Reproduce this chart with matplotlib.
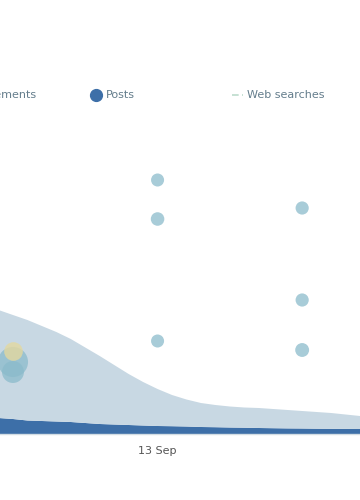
import numpy as np
import matplotlib.pyplot as plt
from matplotlib.lines import Line2D

# Datos (x en dias de septiembre)
dias = [11.9, 12.0, 12.1, 12.2, 12.3, 12.4, 12.5, 12.6, 12.7, 12.8, 12.9, 13.0, 13.1,
        13.2, 13.3, 13.4, 13.5, 13.6, 13.7, 13.8, 13.9, 14.0, 14.1, 14.2, 14.3, 14.4]
posts = [8, 7.5, 6.75, 6.5, 6.25, 6, 5.5, 5, 4.75, 4.5, 4.25, 4, 3.9,
         3.75, 3.5, 3.4, 3.25, 3.15, 3, 2.9, 2.8, 2.75, 2.65, 2.6, 2.55, 2.5]
busquedas = [54, 52, 50.25, 47.5, 44.75, 41.5, 37.75, 34, 29.75, 25.5, 21.75, 18.5, 15.6,
             13.5, 12, 11.1, 10.5, 10.1, 10, 9.6, 9.2, 8.75, 8.35, 7.9, 7.2, 6.5]

# Burbujas
burbuja_x = [13, 13, 13, 14, 14, 14, 12, 12]
burbuja_y = [127, 107.5, 46.5, 113, 67, 42, 36, 31]
burbuja_s = [88, 95, 88, 90, 90, 100, 470, 250]
amarilla_x = [12]
amarilla_y = [41.5]
amarilla_s = [180]

ticks_x = [13]
ticks_lbl = ['13 Sep']

color_claro = '#c8d8e3'
color_oscuro = '#3d6fa8'
color_burbuja = '#8bbbcb'
color_texto = '#647d8c'

fig = plt.figure(figsize=(3.6, 5), dpi=100)
ax = fig.add_axes([0, 0.132, 1, 0.6])

ax.stackplot(dias, posts, busquedas, colors=[color_oscuro, color_claro], linewidth=0)
ax.scatter(burbuja_x, burbuja_y, s=burbuja_s, color=color_burbuja, alpha=0.75,
           linewidths=0, zorder=3)
ax.scatter(amarilla_x, amarilla_y, s=amarilla_s, color='#e3d8a0', alpha=0.8,
           linewidths=0, zorder=4)

ax.set_xlim(12 - 13 / 145, 13 + 203 / 145)
ax.set_ylim(0, 150)
ax.set_xticks(ticks_x)
ax.set_xticklabels(ticks_lbl, fontsize=8, color='#555555')
ax.tick_params(axis='x', length=0, pad=9)
ax.set_yticks([])
for lado in ['top', 'left', 'right']:
    ax.spines[lado].set_visible(False)
ax.spines['bottom'].set_color('#d3dde4')
ax.spines['bottom'].set_linewidth(1)

# Leyenda manual (posiciones en fraccion de figura)
y_ley = 1 - 95 / 500
fig.text(37 / 360, y_ley, 'Engagements', ha='right', va='center', fontsize=8, color=color_texto)
fig.add_artist(Line2D([96 / 360], [y_ley], marker='o', markersize=8.5, color=color_oscuro,
                      transform=fig.transFigure, linestyle='none'))
fig.text(106 / 360, y_ley, 'Posts', ha='left', va='center', fontsize=8, color=color_texto)
fig.add_artist(Line2D([232 / 360, 243 / 360], [y_ley, y_ley], color='#bcdccc', lw=1.2,
                      linestyle=(0, (4, 2, 1, 2)), transform=fig.transFigure))
fig.text(247 / 360, y_ley, 'Web searches', ha='left', va='center', fontsize=8, color=color_texto)

fig.savefig('out.png', dpi=100)
